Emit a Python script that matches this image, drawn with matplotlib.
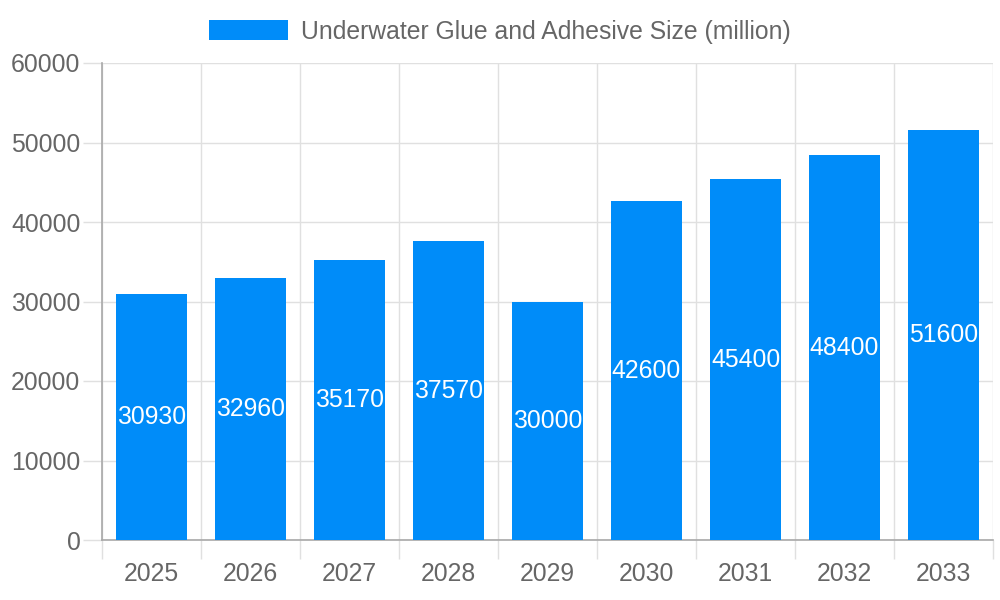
import numpy as np
import matplotlib.pyplot as plt

years = ['2025', '2026', '2027', '2028', '2029', '2030', '2031', '2032', '2033']
sizes = [30930, 32960, 35170, 37570, 30000, 42600, 45400, 48400, 51600]
series_name = 'Underwater Glue and Adhesive Size (million)'

plt.rcParams['font.family'] = ['Liberation Sans', 'DejaVu Sans']
fs = 17.8
txt = '#666666'
grid = '#e0e0e0'
axc = '#a8a8a8'
blue = '#008cf9'

fig = plt.figure(figsize=(10, 6), dpi=100)
ax = fig.add_axes([0.102, 0.1, 0.891, 0.795])

x = np.arange(len(years))
bars = ax.bar(x, sizes, width=0.72, color=blue, label=series_name, zorder=3)
for xi, v in zip(x, sizes):
    ax.text(xi, v / 2, str(v), ha='center', va='center', color='white',
            fontsize=fs, zorder=4)

ax.set_xlim(-0.5, len(years) - 0.5)
ax.set_ylim(0, 60000)
ax.set_yticks(np.arange(0, 60001, 10000))
ax.set_xticks(x)
ax.set_xticklabels(years)
ax.set_xticks(np.arange(-0.5, len(years), 1), minor=True)

# tick lengths in points (14pt ~ 19px)
ax.tick_params(axis='x', which='major', length=0, pad=16, labelsize=fs, labelcolor=txt)
ax.tick_params(axis='x', which='minor', length=14, color=grid, width=1)
ax.tick_params(axis='y', length=14, color=grid, width=1, pad=1.5, labelsize=fs, labelcolor=txt)

ax.grid(True, axis='y', color=grid, linewidth=1, zorder=0)
ax.grid(True, axis='x', which='minor', color=grid, linewidth=1, zorder=0)
ax.grid(False, axis='x', which='major')

for s in ['top', 'right']:
    ax.spines[s].set_visible(False)
ax.spines['left'].set_color(axc)
ax.spines['bottom'].set_color(axc)
ax.spines['left'].set_linewidth(1.2)
ax.spines['bottom'].set_linewidth(1.2)

leg = fig.legend(handles=[bars], labels=[series_name], loc='center',
                 bbox_to_anchor=(0.5, 1 - 31.5 / 600), frameon=False,
                 fontsize=fs, handlelength=3.2, handleheight=0.9, handletextpad=0.55,
                 borderaxespad=0, borderpad=0)
for t in leg.get_texts():
    t.set_color(txt)

fig.savefig('out.png', dpi=100)
